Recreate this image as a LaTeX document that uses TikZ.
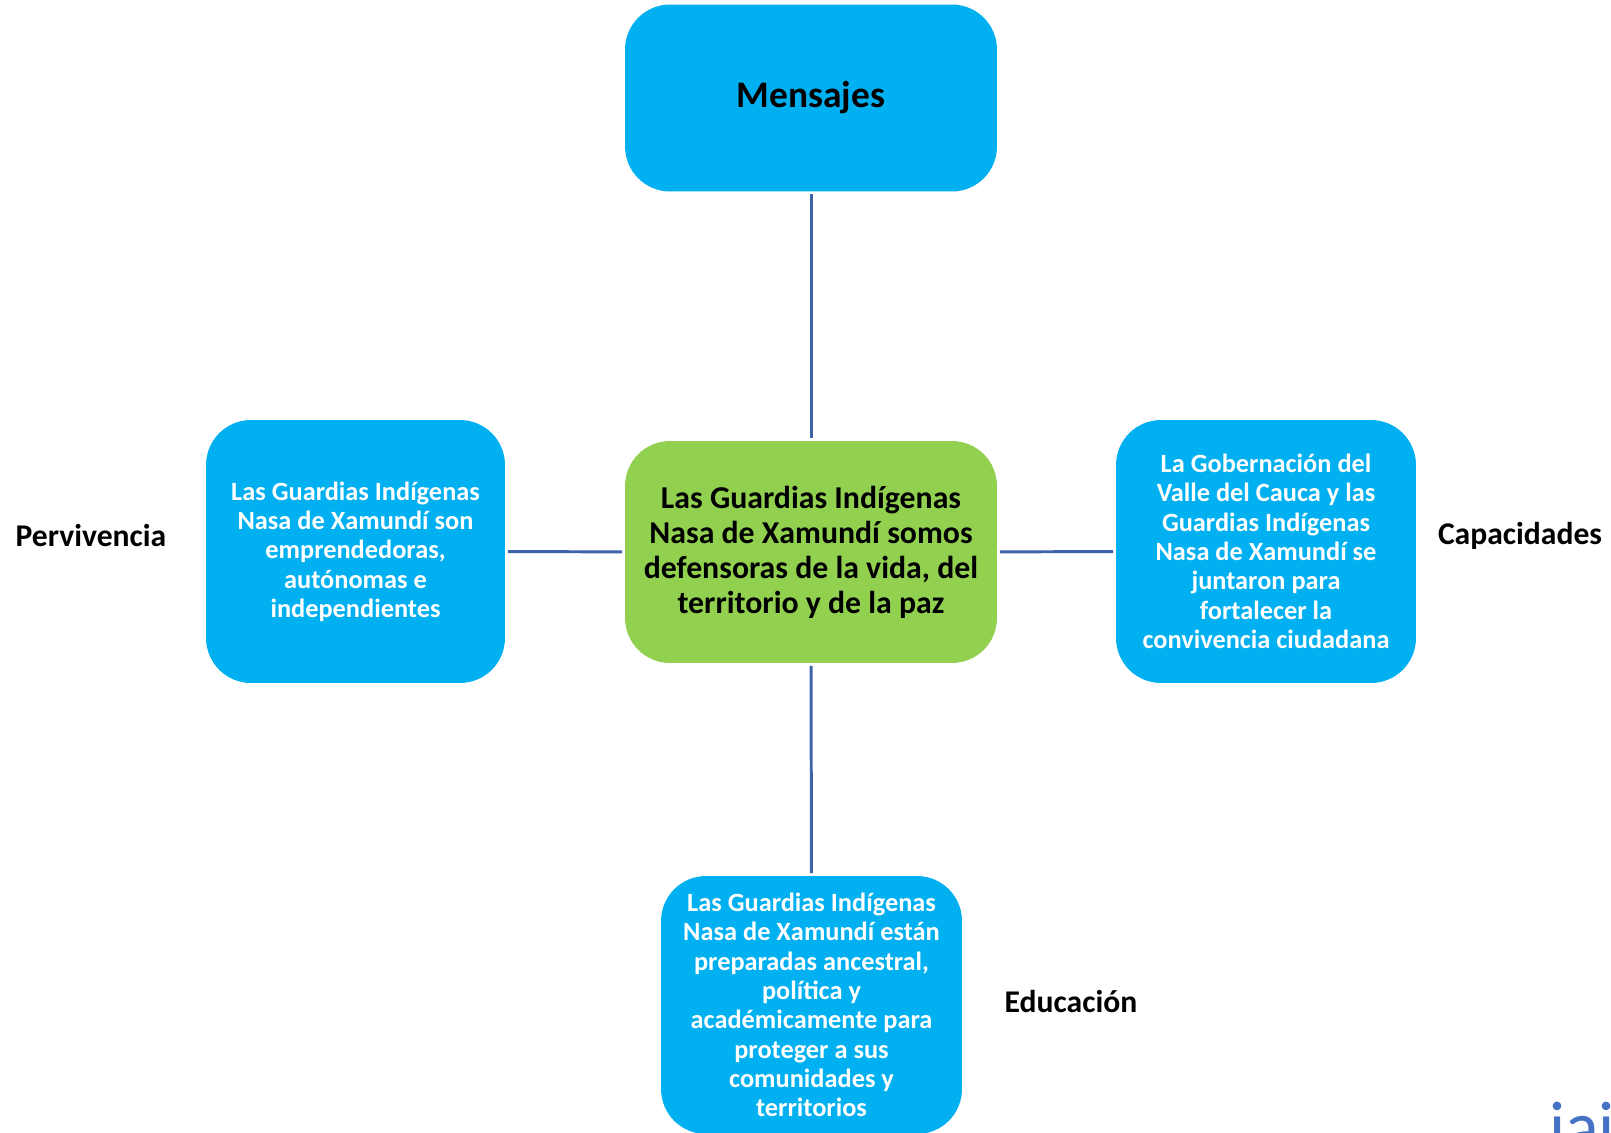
\documentclass[tikz,border=0pt]{standalone}
\usepackage{fontspec}
\setmainfont{Carlito}
\definecolor{azulcaja}{HTML}{00B0F0}
\definecolor{verdecaja}{HTML}{92D050}
\definecolor{azullinea}{HTML}{3F63A8}
\definecolor{azullogo}{HTML}{4472C4}
\tikzset{
  caja/.style={rectangle,rounded corners=0.9cm,fill=azulcaja,align=center,inner sep=0pt,font=\bfseries},
  conector/.style={-,line width=1.7pt,azullinea,shorten <=0.05cm,shorten >=0.05cm},
  etiqueta/.style={font=\bfseries\fontsize{18}{21}\selectfont,text=black}
}
\begin{document}
\begin{tikzpicture}[x=0.02cm,y=-0.02cm]
\useasboundingbox (0,0) rectangle (1611,1132);
%\fill[white] (0,0) rectangle (1611,1132);
\path (811,98) node[caja,minimum width=7.44cm,minimum height=3.74cm,font=\bfseries\fontsize{21.3}{25}\selectfont] (mensajes) {Mensajes};
\path (811,552) node[caja,fill=verdecaja,minimum width=7.44cm,minimum height=4.44cm,font=\bfseries\fontsize{18.1}{19.9}\selectfont] (centro) {Las Guardias Indígenas\\Nasa de Xamundí somos\\defensoras de la vida, del\\territorio y de la paz};
\path (355.5,551.5) node[caja,minimum width=5.98cm,minimum height=5.26cm,text=white,font=\bfseries\fontsize{15}{16.7}\selectfont] (pervivencia) {Las Guardias Indígenas\\Nasa de Xamundí son\\emprendedoras,\\autónomas e\\independientes};
\path (1266,551.5) node[caja,minimum width=6.0cm,minimum height=5.26cm,text=white,font=\bfseries\fontsize{15}{16.7}\selectfont] (capacidades) {La Gobernación del\\Valle del Cauca y las\\Guardias Indígenas\\Nasa de Xamundí se\\juntaron para\\fortalecer la\\convivencia ciudadana};
\path (811.5,1005) node[caja,minimum width=6.02cm,minimum height=5.16cm,text=white,font=\bfseries\fontsize{15}{16.7}\selectfont] (educacion) {Las Guardias Indígenas\\Nasa de Xamundí están\\preparadas ancestral,\\política y\\académicamente para\\proteger a sus\\comunidades y\\territorios};
% conectores
\draw[conector] (mensajes) -- (centro);
\draw[conector] (pervivencia) -- (centro);
\draw[conector] (centro) -- (capacidades);
\draw[conector] (centro) -- (educacion);
% etiquetas
\path (91,536) node[etiqueta] (lpervivencia) {Pervivencia};
\path (1520,536) node[etiqueta] (lcapacidades) {Capacidades};
\path (1071,1002) node[etiqueta] (leducacion) {Educación};
\path (1543,1150) node[anchor=base west,text=azullogo,font=\fontsize{40}{44}\selectfont] (logo) {iai};
\end{tikzpicture}
\end{document}
